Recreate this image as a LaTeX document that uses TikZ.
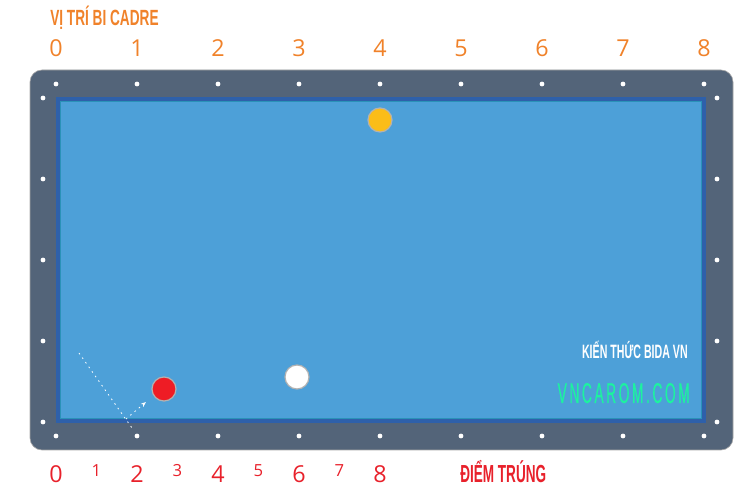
\documentclass[tikz,border=0pt]{standalone}
\usepackage{fontspec}
\setmainfont{Open Sans}
\newfontfamily\condfont[FakeStretch=0.62]{Liberation Sans}
\newfontfamily\narrowfont[FakeStretch=0.55]{Liberation Sans}
\newfontfamily\webfont[FakeStretch=0.48,LetterSpace=9,FakeBold=0.4]{Liberation Sans}
\usetikzlibrary{arrows.meta}

\definecolor{railgray}{HTML}{536479}
\definecolor{cushionblue}{HTML}{2E60AA}
\definecolor{cushionteal}{HTML}{2A92B8}
\definecolor{clothblue}{HTML}{4DA0D8}
\definecolor{labelorange}{HTML}{F0822A}
\definecolor{labelred}{HTML}{E8212B}
\definecolor{ballyellow}{HTML}{FBBD18}
\definecolor{ballred}{HTML}{EE1C25}
\definecolor{webgreen}{HTML}{1DF2A0}

\tikzset{
  diamond dot/.style={circle, fill=white, inner sep=0pt, minimum size=3.6pt},
  ball/.style={circle, draw=gray!60, line width=0.9pt, inner sep=0pt, minimum size=18pt},
  topnum/.style={text=labelorange, anchor=base, font=\fontsize{17.5}{18}\selectfont},
  bignum/.style={text=labelred, anchor=base, font=\fontsize{17.5}{18}\selectfont},
  smallnum/.style={text=labelred, anchor=base, font=\fontsize{12.5}{13}\selectfont},
  shot/.style={white, line width=0.6pt, dash pattern=on 1.2pt off 3pt}
}

\begin{document}
\begin{tikzpicture}[x=0.75pt, y=-0.75pt]
\useasboundingbox (0,0) rectangle (747,498);

% Rail and cloth
\fill[railgray, draw=gray!70, line width=0.5pt, rounded corners=9pt] (30,70) rectangle (733,450);
\fill[cushionblue] (56,97) rectangle (706,423);
\fill[cushionteal] (60,101) rectangle (702,419);
\fill[clothblue] (61,102) rectangle (701,418);

% Diamonds
\foreach \i in {0,...,8} {
    \node[diamond dot] (dt\i) at (56+81*\i, 84) {};
    \node[diamond dot] (db\i) at (56+81*\i, 436) {};
}
\foreach \j in {0,...,4} {
    \node[diamond dot] (dl\j) at (43, 98+81*\j) {};
    \node[diamond dot] (dr\j) at (717, 98+81*\j) {};
}

% Top labels
\node[anchor=base west, inner sep=0pt, text=labelorange, font=\condfont\bfseries\fontsize{16.5}{17}\selectfont] (title) at (50,26) {VỊ TRÍ BI CADRE};
\foreach \i in {0,...,8} {
    \node[topnum] (top\i) at (56+81*\i, 57) {\i};
}

% Bottom labels
\foreach \i in {0,2,4,6,8} {
    \node[bignum] (bot\i) at (56+40.5*\i, 483) {\i};
}
\foreach \i in {1,3,5,7} {
    \node[smallnum] (bot\i) at (56+40.5*\i, 477) {\i};
}
\node[anchor=base west, inner sep=0pt, text=labelred, font=\narrowfont\bfseries\fontsize{18.5}{19}\selectfont] (hit label) at (460,483) {ĐIỂM TRÚNG};

% Balls
\node[ball, fill=ballyellow] (yellow) at (380,120) {};
\node[ball, fill=ballred] (red) at (164,389) {};
\node[ball, fill=white] (cue) at (297,377) {};

% Shot line
\coordinate (start) at (79,353);
\coordinate (rail hit) at (126,419);
\coordinate (aim) at (132,428);
\coordinate (tip) at (146,402);
\draw[shot] (start) -- (aim);
\draw[shot, -{Stealth[length=4pt, width=3pt]}] (rail hit) -- (tip);

% Watermark
\node[anchor=base east, inner sep=0pt, text=white, font=\narrowfont\bfseries\fontsize{14.5}{15}\selectfont] (brand) at (688,359) {KIẾN THỨC BIDA VN};
\node[anchor=base east, inner sep=0pt, text=webgreen, font=\webfont\fontsize{21.5}{22}\selectfont] (site) at (690,403) {VNCAROM.COM};

\end{tikzpicture}
\end{document}
